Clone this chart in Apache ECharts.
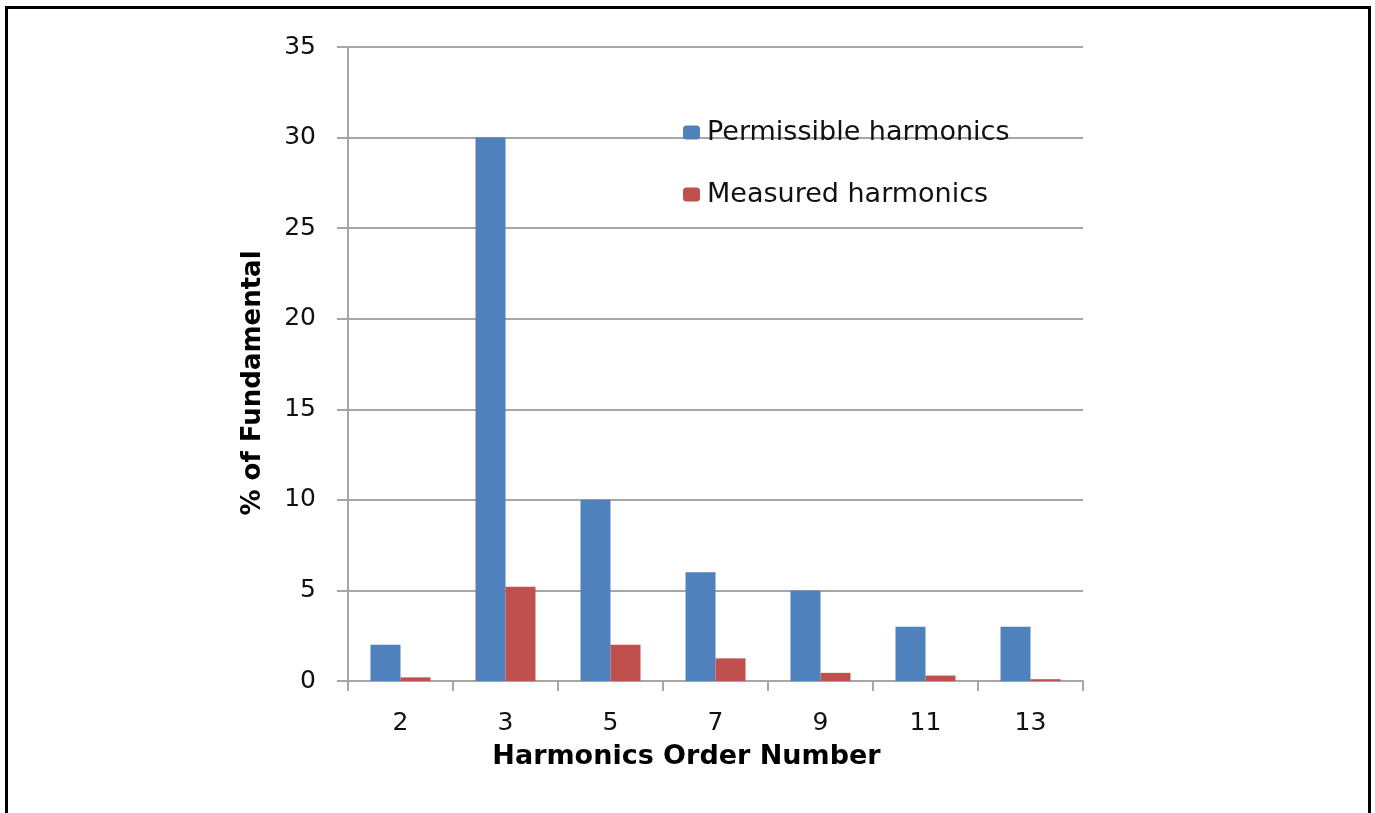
<!DOCTYPE html>
<html>
<head>
<meta charset="utf-8">
<script src="https://cdn.jsdelivr.net/npm/echarts@6/dist/echarts.min.js"></script>
<style>
  html, body { margin: 0; padding: 0; background: #fff; }
  #frame {
    position: absolute; left: 5px; top: 6px; width: 1366px; height: 820px;
    border: 3px solid #000; box-sizing: border-box;
  }
  #chart { position: absolute; left: 0; top: 0; width: 1375px; height: 813px; }
</style>
</head>
<body>
<div id="frame"></div>
<div id="chart"></div>
<script>
// harmonic orders and % of fundamental
var orders = ["2", "3", "5", "7", "9", "11", "13"];
var permissible = [2, 30, 10, 6, 5, 3, 3];
var measured = [0.2, 5.2, 2, 1.25, 0.45, 0.3, 0.1];

var chart = echarts.init(document.getElementById("chart"));
var font = "'DejaVu Sans', sans-serif";

var option = {
  backgroundColor: "transparent",
  textStyle: { fontFamily: font },
  grid: { left: 348, right: 292, top: 47, bottom: 132, containLabel: false },
  legend: {
    orient: "vertical",
    left: 678,
    top: 114,
    itemGap: 35,
    itemWidth: 17,
    itemHeight: 14,
    textStyle: { fontSize: 27, color: "#111", fontFamily: font, padding: [0, 0, 0, 2] },
    data: ["Permissible harmonics", "Measured harmonics"]
  },
  xAxis: {
    type: "category",
    data: orders,
    name: "Harmonics Order Number",
    nameLocation: "middle",
    nameGap: 62,
    nameTextStyle: {
      fontSize: 27, fontWeight: "bold", color: "#000", fontFamily: font,
      padding: [0, 58, 0, 0]
    },
    axisLine: { lineStyle: { color: "#a6a6a6", width: 2 } },
    axisTick: { show: true, length: 10, lineStyle: { color: "#a6a6a6", width: 2 } },
    axisLabel: { fontSize: 25, color: "#111", margin: 30 }
  },
  yAxis: {
    type: "value",
    min: 0,
    max: 35,
    interval: 5,
    name: "% of Fundamental",
    nameLocation: "middle",
    nameGap: 82,
    nameTextStyle: {
      fontSize: 26, fontWeight: "bold", color: "#000", fontFamily: font,
      padding: [0, 38, 0, 0]
    },
    axisLine: { show: true, lineStyle: { color: "#a6a6a6", width: 2 } },
    axisTick: { show: true, length: 11, lineStyle: { color: "#a6a6a6", width: 2 } },
    axisLabel: { fontSize: 25, color: "#111", margin: 32 },
    splitLine: { lineStyle: { color: "#a6a6a6", width: 2 } }
  },
  series: [
    {
      name: "Permissible harmonics",
      type: "bar",
      data: permissible,
      barWidth: 30,
      barGap: "0%",
      itemStyle: { color: "#4F81BD" }
    },
    {
      name: "Measured harmonics",
      type: "bar",
      data: measured,
      barWidth: 30,
      itemStyle: { color: "#C0504D" }
    }
  ]
};
chart.setOption(option);
</script>
</body>
</html>
